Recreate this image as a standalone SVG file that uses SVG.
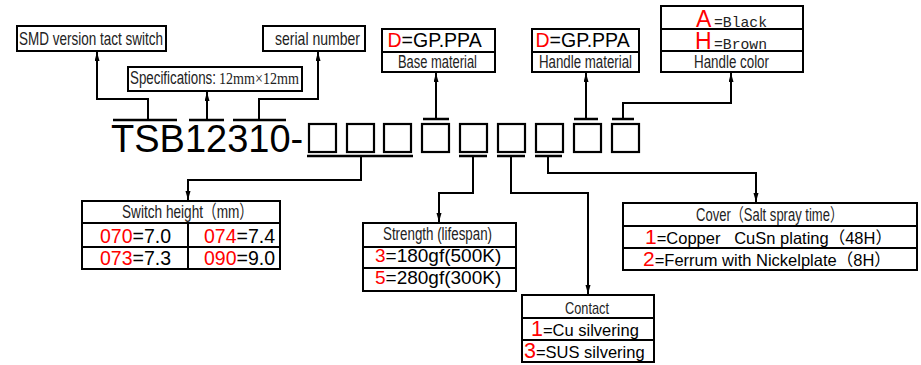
<svg xmlns="http://www.w3.org/2000/svg" width="921" height="365" viewBox="0 0 921 365">
<style>
.box{fill:#fff;stroke:#000;stroke-width:2}
.ln{fill:none;stroke:#000;stroke-width:2}
.bar{fill:none;stroke:#000;stroke-width:2.5}
.sq{fill:none;stroke:#000;stroke-width:2.2}
.cn{font-family:"Liberation Sans","Noto Sans CJK SC",sans-serif;fill:#222}
.sn{font-family:"Liberation Sans","Noto Sans CJK SC",sans-serif;fill:#000}
.sf{font-family:"Liberation Mono","Noto Sans CJK SC",monospace;fill:#222}
.r{fill:#ff0000}
</style>
<defs>
<marker id="ah" markerUnits="userSpaceOnUse" markerWidth="10" markerHeight="6" refX="9" refY="2.5" orient="auto">
<path d="M0,0 L9,2.5 L0,5 z" fill="#000"/>
</marker>
</defs>

<g id="code">
<text class="sn" x="111" y="152" font-size="38">TSB12310-</text>
<g id="squares">
<rect class="sq" x="309" y="124" width="27" height="28"/>
<rect class="sq" x="347" y="124" width="27" height="28"/>
<rect class="sq" x="384" y="124" width="27" height="28"/>
<rect class="sq" x="422" y="124" width="27" height="28"/>
<rect class="sq" x="460" y="124" width="27" height="28"/>
<rect class="sq" x="498" y="124" width="27" height="28"/>
<rect class="sq" x="536" y="124" width="27" height="28"/>
<rect class="sq" x="574" y="124" width="27" height="28"/>
<rect class="sq" x="612" y="124" width="27" height="28"/>
</g>
</g>

<g id="connectors">
<path class="bar" d="M113,120 H177 M189,120 H224 M233,120 H286 M423,119 H449 M574,119 H598 M612,119 H634"/>
<path class="bar" d="M307,156 H413 M459,156 H487 M497,156 H525 M535,156 H562"/>
<path class="ln" d="M148,120 V99 H97 V52" marker-end="url(#ah)"/>
<path class="ln" d="M207,120 V92" marker-end="url(#ah)"/>
<path class="ln" d="M259,120 V99 H318 V52" marker-end="url(#ah)"/>
<path class="ln" d="M436,119 V73" marker-end="url(#ah)"/>
<path class="ln" d="M586,119 V73" marker-end="url(#ah)"/>
<path class="ln" d="M623,119 V103 H731 V73" marker-end="url(#ah)"/>
<path class="ln" d="M361,156 V180 H188 V200" marker-end="url(#ah)"/>
<path class="ln" d="M473,156 V193 H439 V222" marker-end="url(#ah)"/>
<path class="ln" d="M511,156 V193 H588 V294" marker-end="url(#ah)"/>
<path class="ln" d="M548,156 V173 H756 V202" marker-end="url(#ah)"/>
</g>

<g id="smd">
<rect class="box" x="17" y="26" width="149" height="25"/>
<text class="cn" x="19" y="45" font-size="18.5" textLength="144" lengthAdjust="spacingAndGlyphs">SMD version tact switch</text>
</g>

<g id="specs">
<rect class="box" x="128" y="67" width="174" height="24"/>
<text class="cn" x="130" y="84" font-size="18" textLength="86" lengthAdjust="spacingAndGlyphs">Specifications:</text>
<text x="219" y="84" font-size="16" font-family="Liberation Serif, serif" fill="#222" textLength="80" lengthAdjust="spacingAndGlyphs">12mm×12mm</text>
</g>

<g id="serial">
<rect class="box" x="263" y="26" width="102" height="25"/>
<text class="cn" x="275" y="45" font-size="18.5" textLength="85" lengthAdjust="spacingAndGlyphs">serial number</text>
</g>

<g id="base">
<rect class="box" x="382" y="29" width="113" height="43"/>
<line class="ln" x1="382" y1="52" x2="495" y2="52"/>
<text class="sn" x="387.5" y="47" font-size="19.5"><tspan class="r">D</tspan>=GP.PPA</text>
<text class="cn" x="398" y="67.5" font-size="17.5" textLength="79" lengthAdjust="spacingAndGlyphs">Base material</text>
</g>

<g id="handle-material">
<rect class="box" x="532" y="29" width="107" height="43"/>
<line class="ln" x1="532" y1="52" x2="639" y2="52"/>
<text class="sn" x="535.5" y="47" font-size="19.5"><tspan class="r">D</tspan>=GP.PPA</text>
<text class="cn" x="539" y="67.5" font-size="17.5" textLength="93" lengthAdjust="spacingAndGlyphs">Handle material</text>
</g>

<g id="handle-color">
<rect class="box" x="661" y="6" width="142" height="66"/>
<line class="ln" x1="661" y1="29" x2="803" y2="29"/>
<line class="ln" x1="661" y1="51" x2="803" y2="51"/>
<text x="696" y="26.5" font-size="23" class="sn r">A</text>
<text class="sf" x="714" y="26.5" font-size="15" textLength="53" lengthAdjust="spacingAndGlyphs">=Black</text>
<text x="695" y="48.5" font-size="23" class="sn r">H</text>
<text class="sf" x="714" y="48.5" font-size="15" textLength="53" lengthAdjust="spacingAndGlyphs">=Brown</text>
<text class="cn" x="694" y="67.5" font-size="17.5" textLength="75" lengthAdjust="spacingAndGlyphs">Handle color</text>
</g>

<g id="switch-height">
<rect class="box" x="82" y="201" width="198" height="68"/>
<line class="ln" x1="82" y1="223" x2="280" y2="223"/>
<line class="ln" x1="82" y1="247" x2="280" y2="247"/>
<line class="ln" x1="188" y1="223" x2="188" y2="269"/>
<text class="cn" x="122" y="218" font-size="18.5" textLength="131" lengthAdjust="spacingAndGlyphs">Switch height（mm）</text>
<text class="sn" x="100" y="243" font-size="19.5"><tspan class="r">070</tspan>=7.0</text>
<text class="sn" x="204" y="243" font-size="19.5"><tspan class="r">074</tspan>=7.4</text>
<text class="sn" x="100" y="265" font-size="19.5"><tspan class="r">073</tspan>=7.3</text>
<text class="sn" x="204" y="265" font-size="19.5"><tspan class="r">090</tspan>=9.0</text>
</g>

<g id="strength">
<rect class="box" x="363" y="223" width="153" height="68"/>
<line class="ln" x1="363" y1="247" x2="516" y2="247"/>
<line class="ln" x1="363" y1="268" x2="516" y2="268"/>
<text class="cn" x="383" y="240" font-size="17.5" textLength="109" lengthAdjust="spacingAndGlyphs">Strength (lifespan)</text>
<text class="sn" x="375" y="262" font-size="19"><tspan class="r">3</tspan>=180gf(500K)</text>
<text class="sn" x="375" y="284" font-size="19"><tspan class="r">5</tspan>=280gf(300K)</text>
</g>

<g id="contact">
<rect class="box" x="522" y="295" width="132" height="67"/>
<line class="ln" x1="522" y1="318" x2="654" y2="318"/>
<line class="ln" x1="522" y1="340" x2="654" y2="340"/>
<text class="cn" x="565" y="313.5" font-size="17" textLength="44" lengthAdjust="spacingAndGlyphs">Contact</text>
<text class="sn" x="531" y="335.5" font-size="16.5"><tspan class="r" font-size="21.5">1</tspan>=Cu silvering</text>
<text class="sn" x="524" y="357.5" font-size="16.5"><tspan class="r" font-size="21.5">3</tspan>=SUS silvering</text>
</g>

<g id="cover">
<rect class="box" x="623" y="203" width="294" height="67"/>
<line class="ln" x1="623" y1="226" x2="917" y2="226"/>
<line class="ln" x1="623" y1="248" x2="917" y2="248"/>
<text class="cn" x="696" y="220.5" font-size="17.5" textLength="147" lengthAdjust="spacingAndGlyphs">Cover（Salt spray time）</text>
<text class="sn" x="645" y="244" font-size="16.5" xml:space="preserve"><tspan class="r" font-size="21">1</tspan>=Copper   CuSn plating（48H）</text>
<text class="sn" x="643" y="266" font-size="16.5"><tspan class="r" font-size="21">2</tspan>=Ferrum with Nickelplate（8H）</text>
</g>
</svg>
